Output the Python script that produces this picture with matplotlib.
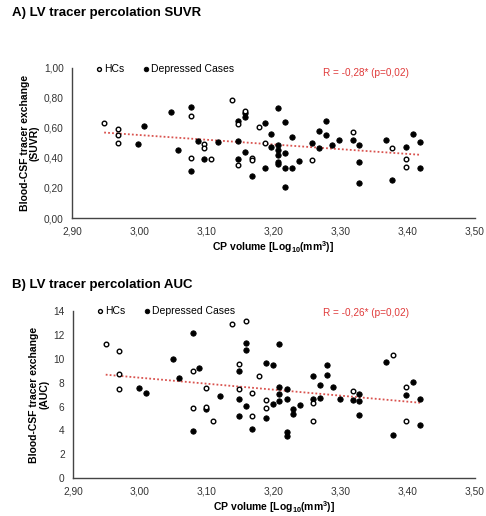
import numpy as np
import matplotlib
matplotlib.use("Agg")
import matplotlib.pyplot as plt

plt.rcParams['font.family'] = ['Liberation Sans', 'DejaVu Sans']
plt.rcParams['mathtext.fontset'] = 'custom'
plt.rcParams['mathtext.rm'] = 'Liberation Sans'
plt.rcParams['mathtext.bf'] = 'Liberation Sans:bold'

# ---- Panel A: SUVR ----
suvr_hc_x = [2.948, 2.968, 2.968, 2.968, 3.078, 3.078, 3.097, 3.097, 3.107, 3.138, 3.148,
             3.148, 3.158, 3.168, 3.168, 3.178, 3.188, 3.258, 3.318, 3.377, 3.397, 3.397]
suvr_hc_y = [0.63, 0.59, 0.55, 0.50, 0.68, 0.40, 0.49, 0.465, 0.396, 0.787, 0.625,
             0.353, 0.715, 0.40, 0.387, 0.605, 0.502, 0.387, 0.576, 0.469, 0.391, 0.338]
suvr_dep_x = [3.008, 2.998, 3.048, 3.058, 3.078, 3.078, 3.088, 3.097, 3.117, 3.148, 3.148,
              3.148, 3.158, 3.158, 3.158, 3.168, 3.188, 3.188, 3.197, 3.197, 3.207, 3.218,
              3.228, 3.207, 3.207, 3.207, 3.207, 3.207, 3.218, 3.218, 3.228, 3.218, 3.238,
              3.258, 3.268, 3.268, 3.278, 3.278, 3.287, 3.298, 3.318, 3.328, 3.328, 3.328,
              3.367, 3.377, 3.397, 3.408, 3.418, 3.418]
suvr_dep_y = [0.61, 0.49, 0.709, 0.453, 0.742, 0.315, 0.511, 0.396, 0.507, 0.645, 0.513,
              0.391, 0.698, 0.675, 0.44, 0.278, 0.631, 0.335, 0.56, 0.475, 0.735, 0.64,
              0.54, 0.485, 0.453, 0.42, 0.375, 0.36, 0.435, 0.335, 0.335, 0.209, 0.38,
              0.502, 0.469, 0.58, 0.649, 0.553, 0.485, 0.52, 0.52, 0.485, 0.373, 0.231,
              0.52, 0.253, 0.475, 0.56, 0.509, 0.335]

# ---- Panel B: AUC ----
auc_hc_x = [2.949, 2.969, 2.969, 2.969, 3.079, 3.079, 3.099, 3.099, 3.109, 3.138, 3.158, 3.148,
            3.148, 3.168, 3.168, 3.178, 3.188, 3.188, 3.259, 3.259, 3.318, 3.378, 3.398, 3.398]
auc_hc_y = [11.23, 10.67, 8.77, 7.49, 9.0, 5.84, 7.57, 5.98, 4.8, 12.9, 13.19, 9.56,
            7.49, 7.18, 5.2, 8.58, 6.54, 5.84, 6.26, 4.8, 7.29, 10.37, 7.65, 4.8]
auc_dep_x = [2.999, 3.009, 3.049, 3.058, 3.079, 3.079, 3.088, 3.099, 3.119, 3.158, 3.158,
             3.148, 3.148, 3.148, 3.158, 3.168, 3.188, 3.188, 3.198, 3.198, 3.208, 3.208,
             3.208, 3.208, 3.219, 3.219, 3.219, 3.219, 3.229, 3.229, 3.239, 3.259, 3.259,
             3.269, 3.269, 3.279, 3.279, 3.289, 3.299, 3.318, 3.327, 3.327, 3.327, 3.368,
             3.378, 3.398, 3.408, 3.418, 3.418]
auc_dep_y = [7.57, 7.1, 10.03, 8.44, 12.18, 3.94, 9.25, 5.78, 6.93, 11.34, 10.73,
             8.99, 6.6, 5.2, 6.06, 4.1, 9.7, 5.06, 9.47, 6.2, 11.29, 7.65,
             7.04, 6.45, 7.46, 6.62, 3.88, 3.55, 5.78, 5.36, 6.15, 8.61, 6.62,
             7.8, 6.73, 9.47, 8.69, 7.65, 6.62, 6.54, 7.04, 6.45, 5.28, 9.78,
             3.63, 6.96, 8.07, 6.62, 4.47]

x_ticks = [2.90, 3.00, 3.10, 3.20, 3.30, 3.40, 3.50]
suvr_ticks = [0.00, 0.20, 0.40, 0.60, 0.80, 1.00]
auc_ticks = [0, 2, 4, 6, 8, 10, 12, 14]

titles = ["A) LV tracer percolation SUVR", "B) LV tracer percolation AUC"]
ylabels = ["Blood-CSF tracer exchange\n(SUVR)", "Blood-CSF tracer exchange\n(AUC)"]
r_texts = ["R = -0,28* (p=0,02)", "R = -0,26* (p=0,02)"]
xlabel = r"CP volume [Log$_{\mathbf{10}}$(mm$^{\mathbf{3}}$)]"

fig = plt.figure(figsize=(4.86, 5.16), dpi=100)
ax_a = fig.add_axes([0.148, 0.5775, 0.829, 0.291])
ax_b = fig.add_axes([0.150, 0.0736, 0.827, 0.323])


def comma(v, fmt):
    return (fmt % v).replace('.', ',')


def draw_panel(ax, hx, hy, dx, dy, yticks, yfmt, ylabel, rtext, r_y):
    ax.scatter(dx, dy, s=15, facecolor='black', edgecolor='black', linewidth=0.6,
               label='Depressed Cases', zorder=3)
    ax.scatter(hx, hy, s=11, facecolor='white', edgecolor='black', linewidth=1.0,
               label='HCs', zorder=3)
    allx = np.array(hx + dx)
    ally = np.array(hy + dy)
    k, b = np.polyfit(allx, ally, 1)
    xs = np.array([allx.min(), allx.max()])
    ax.plot(xs, k * xs + b, linestyle=(0, (1, 1.2)), color='#d9534f', linewidth=1.3,
            zorder=2)
    ax.set_xlim(2.90, 3.50)
    ax.set_ylim(yticks[0], yticks[-1])
    ax.set_xticks(x_ticks)
    ax.set_xticklabels([comma(v, '%.2f') for v in x_ticks])
    ax.set_yticks(yticks)
    ax.set_yticklabels([comma(v, yfmt) for v in yticks])
    ax.tick_params(length=0, labelsize=7.3, colors='#333333', pad=6)
    for s in ['top', 'right']:
        ax.spines[s].set_visible(False)
    for s in ['left', 'bottom']:
        ax.spines[s].set_color('#444444')
        ax.spines[s].set_linewidth(1.0)
    ax.set_xlabel(xlabel, fontsize=7.5, fontweight='bold', labelpad=2)
    ax.set_ylabel(ylabel, fontsize=7.5, fontweight='bold', labelpad=3,
                  linespacing=1.0)
    handles, labels = ax.get_legend_handles_labels()
    ax.legend(handles[::-1], labels[::-1], ncol=2, loc='upper left',
              bbox_to_anchor=(0.03, 1.09), frameon=False, fontsize=7.5,
              handletextpad=0.0, columnspacing=1.6, markerscale=0.85,
              handlelength=1.0)
    ax.text(3.3375, r_y, rtext, color='#e03a3a', fontsize=7.2, ha='center',
            va='center')
    return ax


draw_panel(ax_a, suvr_hc_x, suvr_hc_y, suvr_dep_x, suvr_dep_y, suvr_ticks, '%.2f',
           ylabels[0], r_texts[0], 0.965)
draw_panel(ax_b, auc_hc_x, auc_hc_y, auc_dep_x, auc_dep_y, auc_ticks, '%d',
           ylabels[1], r_texts[1], 13.85)

fig.text(0.025, 0.975, titles[0], fontsize=9.5, fontweight='bold', ha='left', va='center')
fig.text(0.025, 0.448, titles[1], fontsize=9.5, fontweight='bold', ha='left', va='center')

fig.savefig("out.png", dpi=100)
